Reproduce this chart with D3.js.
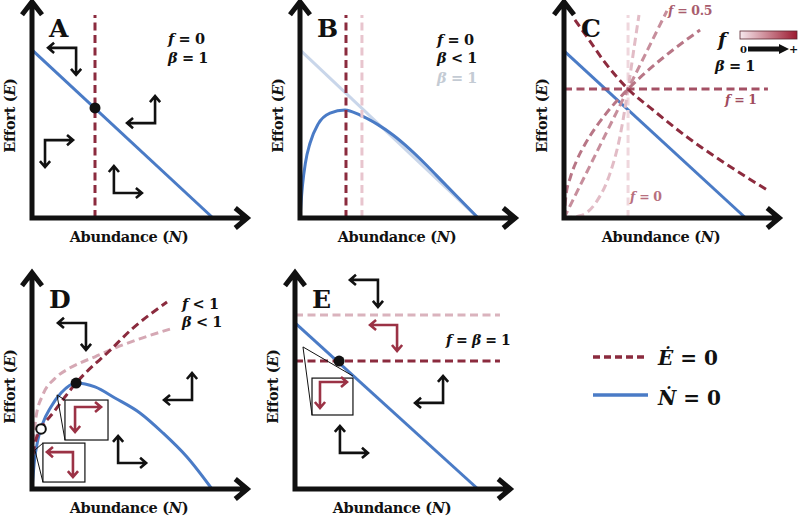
<!DOCTYPE html>
<html>
<head>
<meta charset="utf-8">
<script src="https://cdnjs.cloudflare.com/ajax/libs/d3/7.8.5/d3.min.js"></script>
<style>
  body { margin: 0; background: #fff; }
  svg { display: block; }
</style>
</head>
<body>
<div id="chart"></div>
<script>
// ---- data (N, E) in panel units ----
// A: beta = 1, f = 0
var nLineA = [[0, 0.82], [0.862, 0]];
var eLineA = [[0.30, 0], [0.30, 0.99]];
var eqA = [[0.30, 0.537]];
var arrowsA = [[0.21, 0.83, -1, -1], [0.586, 0.463, -1, 1], [0.062, 0.38, 1, -1], [0.39, 0.122, 1, 1]];

// B: beta < 1 hump, ghost of beta = 1 line
var nGhostB = [[0, 0.82], [0.848, 0]];
var nHumpB = [[0, 0], [0.004, 0.06], [0.012, 0.16], [0.026, 0.27], [0.048, 0.366], [0.086, 0.458],
  [0.143, 0.512], [0.214, 0.527], [0.286, 0.502], [0.367, 0.458], [0.443, 0.405], [0.524, 0.335],
  [0.605, 0.255], [0.681, 0.175], [0.762, 0.09], [0.848, 0]];
var eLineB = [[0.219, 0], [0.219, 0.99]];
var eGhostB = [[0.295, 0], [0.295, 0.99]];

// C: family of E-nullclines for increasing f
var nLineC = [[0, 0.815], [0.865, 0]];
var cF0 = [[0.305, 0], [0.305, 0.99]];
var cLow = [[0, 0], [0.08, 0.012], [0.155, 0.08], [0.22, 0.22], [0.265, 0.39], [0.305, 0.629], [0.335, 0.84], [0.357, 0.99]];
var cHalf = [[0, 0], [0.49, 1.01]];
var cMid = [[0, 0], [0.01, 0.114], [0.03, 0.197], [0.06, 0.279], [0.1, 0.36], [0.15, 0.441], [0.2, 0.509],
  [0.305, 0.629], [0.4, 0.72], [0.5, 0.805], [0.648, 0.917]];
var cF1 = [[0, 0.629], [0.971, 0.629]];
var cHigh = [[0.052, 0.966], [0.11, 0.883], [0.186, 0.771], [0.305, 0.629], [0.424, 0.527], [0.586, 0.395],
  [0.743, 0.283], [0.967, 0.137]];

// D: f < 1, beta < 1
var nHumpD = [[0, 0], [0.004, 0.05], [0.012, 0.14], [0.027, 0.235], [0.052, 0.322], [0.09, 0.4],
  [0.138, 0.468], [0.21, 0.517], [0.3, 0.498], [0.395, 0.444], [0.514, 0.371], [0.624, 0.273],
  [0.738, 0.156], [0.857, 0]];
var eDarkD = [[0.005, 0.17], [0.015, 0.225], [0.043, 0.293], [0.1, 0.371], [0.157, 0.449], [0.21, 0.517],
  [0.3, 0.61], [0.338, 0.644], [0.481, 0.785], [0.643, 0.912]];
var ePinkD = [[0.005, 0.166], [0.019, 0.351], [0.052, 0.46], [0.11, 0.54], [0.171, 0.585], [0.229, 0.615],
  [0.3, 0.645], [0.4, 0.69], [0.52, 0.735], [0.657, 0.78]];
var eqD = [[0.21, 0.517]];
var unstableD = [[0.043, 0.293]];
var arrowsD = [[0.257, 0.81, -1, -1], [0.762, 0.434, -1, 1], [0.41, 0.127, 1, 1]];
var redArrowsD = [[0.205, 0.40, 1, -1], [0.195, 0.18, -1, -1]];
var boxesD = [[0.157, 0.434, 0.362, 0.239], [0.052, 0.224, 0.252, 0.034]];
var calloutsD = [[[0.119, 0.459], [0.157, 0.434], [0.157, 0.239]], [[0.014, 0.19], [0.052, 0.224], [0.052, 0.034]]];

// E: f = beta = 1
var nLineE = [[0, 0.81], [0.871, 0]];
var eHighE = [[0, 0.849], [0.976, 0.849]];
var eLowE = [[0, 0.624], [0.976, 0.624]];
var eqE = [[0.21, 0.624]];
var arrowsE = [[0.395, 1.02, -1, -1], [0.705, 0.42, -1, 1], [0.214, 0.176, 1, 1]];
var redArrowsE = [[0.486, 0.80, -1, -1], [0.119, 0.522, 1, -1]];
var boxesE = [[0.081, 0.541, 0.276, 0.361]];
var calloutsE = [[[0.038, 0.693], [0.276, 0.551], [0.081, 0.361]]];

// ---- style ----
var blue = "#4a7bc6", maroon = "#8b2b3e", ink = "#111";
var serif = "'DejaVu Serif', 'Liberation Serif', serif";
var W = 210, H = 205;

var svg = d3.select("#chart").append("svg").attr("width", 800).attr("height", 520)
  .style("font-family", serif).attr("font-weight", "bold");

function panel(ox, oy) {
  return {
    g: svg.append("g"),
    x: d3.scaleLinear().domain([0, 1]).range([ox, ox + W]),
    y: d3.scaleLinear().domain([0, 1]).range([oy, oy - H]),
    ox: ox, oy: oy
  };
}

function curve(p, pts, color, dashed, width) {
  var line = d3.line().x(function(d) { return p.x(d[0]); }).y(function(d) { return p.y(d[1]); })
    .curve(d3.curveMonotoneX);
  p.g.append("path").datum(pts).attr("d", line)
    .attr("fill", "none").attr("stroke", color)
    .attr("stroke-width", width || 3)
    .attr("stroke-dasharray", dashed ? "8,4.5" : null);
}

function dots(p, pts, open) {
  p.g.selectAll(null).data(pts).enter().append("circle")
    .attr("cx", function(d) { return p.x(d[0]); })
    .attr("cy", function(d) { return p.y(d[1]); })
    .attr("r", open ? 4.8 : 5.5)
    .attr("fill", open ? "#fff" : ink)
    .attr("stroke", ink).attr("stroke-width", open ? 2 : 0);
}

function head(x2, y2, ux, uy, h) {
  var bx = x2 - ux * h, by = y2 - uy * h, px = -uy * h * 0.85, py = ux * h * 0.85;
  return "M" + (bx + px) + "," + (by + py) + "L" + x2 + "," + y2 + "L" + (bx - px) + "," + (by - py);
}

function quiver(p, list, color, len) {
  len = len || 28;
  list.forEach(function(a) {
    var cx = p.x(a[0]), cy = p.y(a[1]);
    var hx = cx + a[2] * len, vy = cy - a[3] * (len - 1);
    var d = "M" + hx + "," + cy + "L" + cx + "," + cy + "L" + cx + "," + vy +
      head(hx, cy, a[2], 0, 6) + head(cx, vy, 0, -a[3], 6);
    p.g.append("path").attr("d", d).attr("fill", "none").attr("stroke", color)
      .attr("stroke-width", 2.6).attr("stroke-linejoin", "miter");
  });
}

function boxes(p, list, callouts) {
  callouts.forEach(function(c) {
    var d = "M" + p.x(c[1][0]) + "," + p.y(c[1][1]) + "L" + p.x(c[0][0]) + "," + p.y(c[0][1]) +
      "L" + p.x(c[2][0]) + "," + p.y(c[2][1]);
    p.g.append("path").attr("d", d).attr("fill", "none").attr("stroke", ink).attr("stroke-width", 1);
  });
  list.forEach(function(b) {
    p.g.append("rect")
      .attr("x", p.x(b[0])).attr("y", p.y(b[1]))
      .attr("width", p.x(b[2]) - p.x(b[0])).attr("height", p.y(b[3]) - p.y(b[1]))
      .attr("fill", "none").attr("stroke", ink).attr("stroke-width", 1.2);
  });
}

function text(g, x, y, parts, size, color, anchor, ls) {
  var t = g.append("text").attr("x", x).attr("y", y).attr("font-size", size)
    .style("font-family", serif).attr("font-weight", "bold")
    .attr("xml:space", "preserve")
    .attr("letter-spacing", ls || null)
    .attr("fill", color || ink).attr("text-anchor", anchor || "start");
  parts.forEach(function(s) {
    t.append("tspan").text(s[0]).attr("font-style", s[1] ? "italic" : null);
  });
  return t;
}

function axes(p, letter) {
  var ox = p.ox, oy = p.oy, xt = p.x(1.025), yt = p.y(1.055);
  var d = "M" + ox + "," + (yt + 2) + "L" + ox + "," + oy + "L" + (xt - 2) + "," + oy +
    "M" + (ox - 10) + "," + (yt + 13) + "L" + ox + "," + yt + "L" + (ox + 10) + "," + (yt + 13) +
    "M" + (xt - 12) + "," + (oy - 10) + "L" + xt + "," + oy + "L" + (xt - 12) + "," + (oy + 10);
  p.g.append("path").attr("d", d).attr("fill", "none").attr("stroke", ink)
    .attr("stroke-width", 5).attr("stroke-linejoin", "miter");
  text(p.g, p.x(0.462), oy + 24, [["Abundance (", 0], ["N", 1], [")", 0]], 14.5, ink, "middle", -0.3);
  text(p.g, 0, 0, [["Effort (", 0], ["E", 1], [")", 0]], 14.5, ink, "middle", -0.3)
    .attr("transform", "translate(" + (ox - 17) + "," + p.y(0.5) + ") rotate(-90)");
  text(p.g, ox + 17, oy - 181, [[letter, 0]], 25);
}

// ---- panel A ----
var pA = panel(32, 218);
curve(pA, nLineA, blue);
curve(pA, eLineA, maroon, true);
dots(pA, eqA);
quiver(pA, arrowsA, ink);
axes(pA, "A");
text(pA.g, pA.ox + 136, pA.oy - 174, [["f", 1], [" = 0", 0]], 14.5, ink, null, -0.4);
text(pA.g, pA.ox + 136, pA.oy - 155, [["\u03b2", 1], [" = 1", 0]], 14.5, ink, null, -0.4);

// ---- panel B ----
var pB = panel(300, 218);
curve(pB, nGhostB, "#c9d6ea");
curve(pB, nHumpB, blue);
curve(pB, eGhostB, "#e8c5ce", true);
curve(pB, eLineB, maroon, true);
axes(pB, "B");
text(pB.g, pB.ox + 137, pB.oy - 173, [["f", 1], [" = 0", 0]], 14.5, ink, null, -0.4);
text(pB.g, pB.ox + 137, pB.oy - 155, [["\u03b2", 1], [" < 1", 0]], 14.5, ink, null, -0.4);
text(pB.g, pB.ox + 137, pB.oy - 135, [["\u03b2", 1], [" = 1", 0]], 14.5, "#c4cbd4", null, -0.4);

// ---- panel C ----
var pC = panel(564, 218);
curve(pC, nLineC, blue);
curve(pC, cF0, "#efd7dd", true);
curve(pC, cLow, "#e2bcc6", true);
curve(pC, cHalf, "#c78e9c", true);
curve(pC, cMid, "#b87686", true);
curve(pC, cF1, "#a45064", true);
curve(pC, cHigh, "#8d2b3e", true);
axes(pC, "C");
text(pC.g, 668, 15, [["f", 1], [" = 0.5", 0]], 12.5, "#a95d6e", null, -0.3);
text(pC.g, 725, 104, [["f", 1], [" = 1", 0]], 12.5, "#a04b5e", null, -0.3);
text(pC.g, 630, 201, [["f", 1], [" = 0", 0]], 12.5, "#b8707f", null, -0.3);
text(pC.g, 718, 46, [["f", 1]], 19);
text(pC.g, 715, 71, [["\u03b2", 1], [" = 1", 0]], 14.5, ink, null, -0.4);
// colour key for f
var grad = svg.append("defs").append("linearGradient").attr("id", "fkey");
grad.append("stop").attr("offset", "0%").attr("stop-color", "#f6e8ed");
grad.append("stop").attr("offset", "100%").attr("stop-color", "#9c1a30");
pC.g.append("rect").attr("x", 740).attr("y", 31).attr("width", 57).attr("height", 8)
  .attr("fill", "url(#fkey)").attr("stroke", "#5a2630").attr("stroke-width", 0.8);
pC.g.append("path").attr("d", "M748,49L780,49").attr("stroke", ink).attr("stroke-width", 5);
pC.g.append("path").attr("d", "M779,44L789,49L779,54Z").attr("fill", ink);
text(pC.g, 740, 53, [["0", 0]], 10);
text(pC.g, 789, 53, [["+", 0]], 11);

// ---- panel D ----
var pD = panel(32, 489);
curve(pD, nHumpD, blue);
curve(pD, ePinkD, "#d5a8b4", true);
curve(pD, eDarkD, maroon, true);
dots(pD, eqD);
dots(pD, unstableD, true);
boxes(pD, boxesD, calloutsD);
quiver(pD, redArrowsD, "#9b3245", 26);
quiver(pD, arrowsD, ink);
axes(pD, "D");
text(pD.g, pD.ox + 150, pD.oy - 180, [["f", 1], [" < 1", 0]], 14.5, ink, null, -0.4);
text(pD.g, pD.ox + 150, pD.oy - 162, [["\u03b2", 1], [" < 1", 0]], 14.5, ink, null, -0.4);

// ---- panel E ----
var pE = panel(295, 489);
curve(pE, nLineE, blue);
curve(pE, eHighE, "#dab3bd", true);
curve(pE, eLowE, maroon, true);
dots(pE, eqE);
boxes(pE, boxesE, calloutsE);
quiver(pE, redArrowsE, "#9b3245", 27);
quiver(pE, arrowsE, ink);
axes(pE, "E");
text(pE.g, pE.ox + 151, pE.oy - 144, [["f", 1], [" = ", 0], ["\u03b2", 1], [" = 1", 0]], 14, ink, null, -0.4);

// ---- legend ----
var leg = svg.append("g");
leg.append("line").attr("x1", 593).attr("x2", 648).attr("y1", 357).attr("y2", 357)
  .attr("stroke", maroon).attr("stroke-width", 3.5).attr("stroke-dasharray", "7,4");
leg.append("line").attr("x1", 593).attr("x2", 648).attr("y1", 395).attr("y2", 395)
  .attr("stroke", blue).attr("stroke-width", 3.5);
text(leg, 658, 365, [["\u0116", 1], [" = 0", 0]], 20);
text(leg, 658, 405, [["\u1E44", 1], [" = 0", 0]], 20);
</script>
</body>
</html>
